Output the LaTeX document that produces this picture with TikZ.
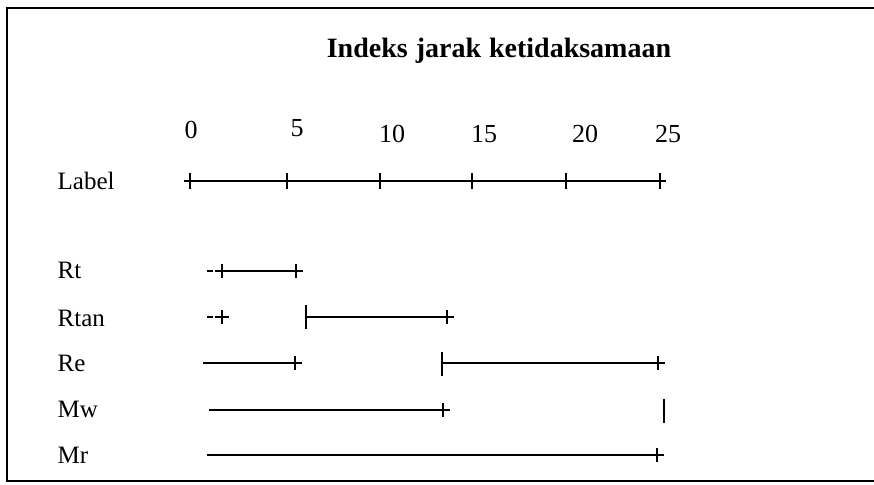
\documentclass[tikz,border=0pt]{standalone}
\usepackage{fontspec}
\setmainfont{Liberation Serif}
\newcommand{\plusat}[2]{\draw[line width=0.7pt] (#1,#2) +(-7,0) -- +(7,0) +(0,-7) -- +(0,7);}
\newcommand{\barat}[2]{\draw[line width=0.8pt] (#1,#2) +(0,-12) -- +(0,12);}

\begin{document}
\begin{tikzpicture}[x=0.5pt,y=-0.5pt,line width=1pt,
	rowname/.style={anchor=west,font=\fontsize{12.5}{15}\selectfont},
	scalenum/.style={font=\fontsize{13}{15}\selectfont}]
		\useasboundingbox (0,0) rectangle (874,484);
		\draw[line width=1.2pt] (874,8) -- (7,8) -- (7,481) -- (874,481);
		\node[font=\bfseries\fontsize{14}{16}\selectfont] (title) at (499,51) {Indeks\hspace{4pt}jarak\hspace{4pt}ketidaksamaan};
		\foreach \v/\x/\y in {0/191/130,5/297/128,10/392/134,15/484/134,20/585/134,25/668/134}
			\node[scalenum] (n\v) at (\x,\y) {\v};
		\node[rowname] (label) at (50,181) {Label};
		\node[rowname] (rt) at (50,270) {Rt};
		\node[rowname] (rtan) at (50,318) {Rtan};
		\node[rowname] (re) at (50,363) {Re};
		\node[rowname] (mw) at (50,409) {Mw};
		\node[rowname] (mr) at (50,455) {Mr};
		\draw (190,181) -- (660,181);
		\foreach \x in {190,287,380,472,566,660}
			\draw[line width=0.9pt] (\x,181) +(-6,0) -- +(6,0) +(0,-8) -- +(0,8);
		\draw[line width=0.7pt] (207,271) -- (213,271);
		\plusat{222}{271}
		\draw (222,271) -- (296,271);
		\plusat{296}{271}
		\draw[line width=0.7pt] (207,317) -- (213,317);
		\plusat{222}{317}
		\barat{306}{317}
		\draw (306,317) -- (442,317);
		\plusat{447}{317}
		\draw (203,363) -- (292,363);
		\plusat{295}{363}
		\barat{442}{364}
		\draw (442,363) -- (652,363);
		\plusat{658}{363}
		\draw (209,410) -- (440,410);
		\plusat{443}{410}
		\barat{664}{411}
		\draw (207,455) -- (652,455);
		\plusat{657}{455}
	\end{tikzpicture}
\end{document}
